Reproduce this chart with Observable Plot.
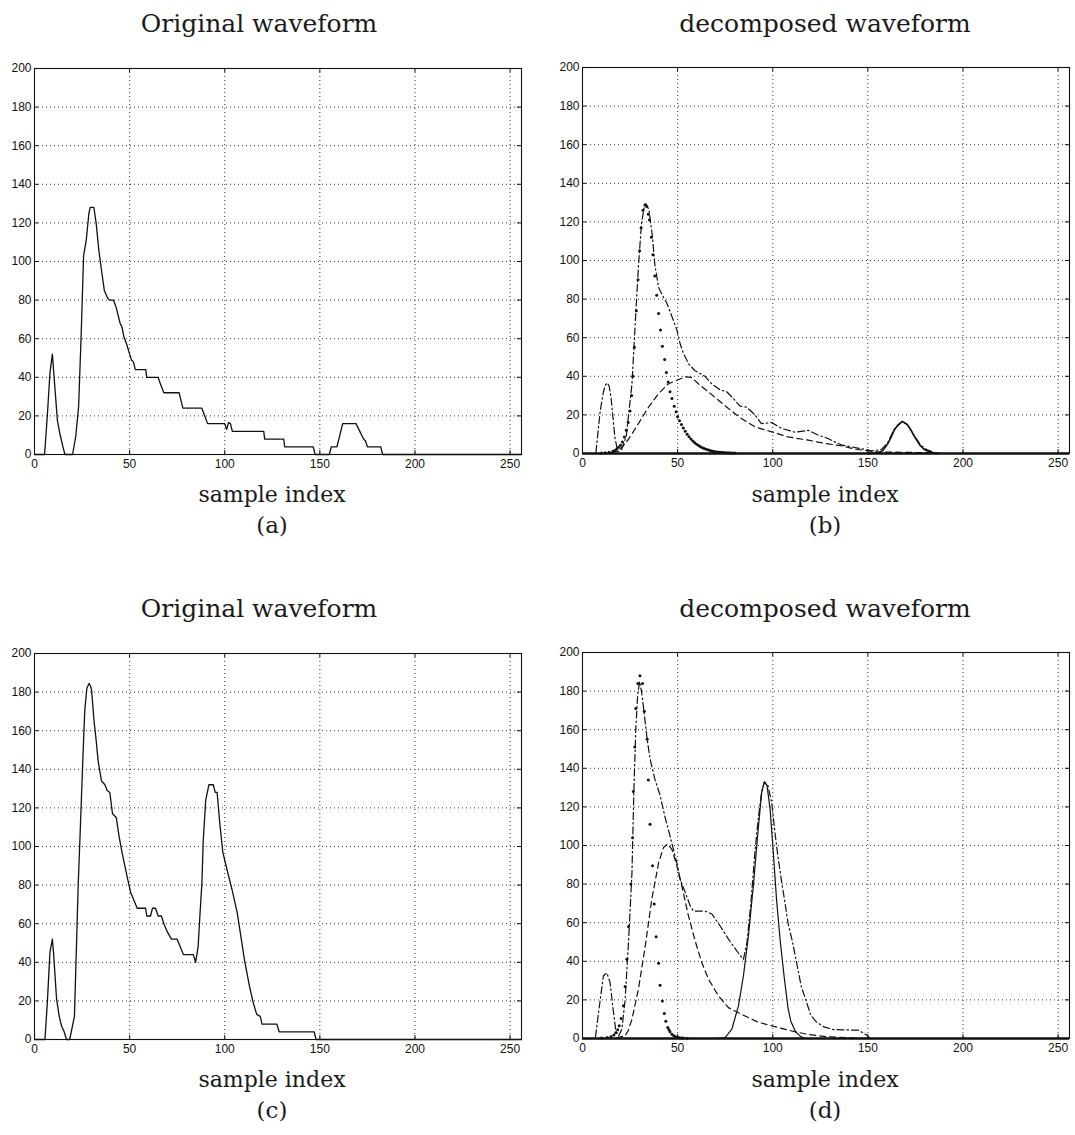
<!DOCTYPE html>
<html><head><meta charset="utf-8">
<script src="https://cdn.jsdelivr.net/npm/d3@7"></script>
<script src="https://cdn.jsdelivr.net/npm/@observablehq/plot@0.6"></script>
<style>
html,body{margin:0;padding:0;background:#fff;}
body{width:1075px;height:1135px;overflow:hidden;position:relative;}
.t{position:absolute;font-family:"DejaVu Serif",serif;color:#1a1a1a;transform:translateX(-50%);white-space:nowrap;line-height:1;}
.p{position:absolute;}
</style></head><body>
<script>
// ---------- axis ticks ----------
const xTicks = [0, 50, 100, 150, 200, 250];
const yTicks = [0, 20, 40, 60, 80, 100, 120, 140, 160, 180, 200];
const yGrid = [20, 40, 60, 80, 100, 120, 140, 160, 180];

// ---------- titles ----------
const titles = ["Original waveform", "decomposed waveform", "Original waveform", "decomposed waveform"];
const xLabel = "sample index";
const subLabels = ["(a)", "(b)", "(c)", "(d)"];

// ---------- (a) original waveform ----------
const origA = [[0,0],[5.3,0],[6.8,21],[8.1,42],[9.4,52],[10.7,35],[12,18],[13.3,11],[14.7,5],[16,0],[20,0],[21.7,9.5],[23.2,25],[24.6,64],[25.8,103],[27.2,111],[28.6,125],[29.3,128],[31.2,128],[32.4,120],[33.8,106],[35,97],[36.7,85],[38.5,81],[39.5,80],[41.5,80],[43,76],[45,68],[46,66],[47,61],[48.5,57],[50,52],[51,49],[52,48],[53,44],[58.5,44],[59,40],[65,40],[66,37],[68,32],[76,32],[77,28],[78,24],[88,24],[89.5,20],[91,16],[100,16],[101,13],[102,16.5],[103,16],[104,12],[120.5,12],[121,8],[131,8],[131.5,4],[146.5,4],[147.5,0],[155,0],[156,4],[159,4],[162,16],[169,16],[171,12],[172,10],[173,8],[174,7],[175,4],[182,4],[183,0],[256,0]];

// ---------- (b) decomposed components ----------
const dashdotB = [[0,0],[7,0],[9.3,22],[11,32],[12,35.4],[13,36.6],[14,35],[15,29],[17,8.6],[18.5,1],[20.6,2],[23,9],[26,36],[27.7,67],[29.4,97],[31,119],[32.3,127],[33.3,129.5],[35,126],[36.8,112],[38,98],[40,86],[42.5,81],[44.3,78],[47,71],[49.6,64],[51.3,57],[53,52],[55.7,46.6],[59,43],[64.4,40],[68,36],[72.3,33],[75.8,32],[79.3,28.5],[82.8,24.5],[86.3,24],[90.7,20],[94,15.5],[99.5,16],[104.7,13],[111.7,11],[118.7,12],[124,9.5],[129,7.8],[133.6,5.5],[136,4.5],[141,3.5],[146.5,2.5],[152,1.4],[157,2],[160.4,5.5],[163.8,12.5],[168.1,16.6],[170.7,15],[174.1,9.8],[177.6,4.5],[181,2],[185,0.5],[187,0],[256,0]];
const dottedB = [[10,0.2],[12,0.4],[14,0.7],[16,1.2],[17,1.6],[18,2.3],[19,3.2],[20,4.3],[21,6],[22,8.5],[23,12],[24,16],[25,22],[25.8,30],[26.5,40],[27.3,55],[28.3,74],[29.2,90],[30,105],[30.8,117],[31.8,126],[32.8,128.7],[33.8,128],[34.6,124],[35.2,121],[36.2,112],[37,103],[38,92],[39,82],[40,72.5],[41,64],[42,55.6],[43.2,48.7],[44.1,42],[45,37],[46,32],[47,28.5],[48.2,24.5],[49.2,21.6],[50,19],[51,17],[52,15],[53,13.2],[54,11.5],[55,10],[56,8.7],[57,7.5],[58,6.5],[59,5.6],[60,4.8],[61,4.1],[62,3.5],[63,3],[64,2.6],[65,2.2],[66,1.9],[67,1.6],[68,1.3],[69,1.1],[70,0.9],[71,0.8],[72,0.7],[73,0.6],[74,0.5],[75,0.45],[76,0.4],[77,0.35],[78,0.3],[79,0.25],[80,0.2]];
const dashedB = [[15,0.3],[18,1.2],[20,2.5],[22.4,5],[25,8.6],[29.4,15.5],[34.7,24],[40,31],[45,36],[48.7,37.6],[54,39.7],[57.4,39.4],[61,36],[66,32],[71.5,27.6],[76.7,23.3],[83.7,18],[90.7,13.8],[99.5,11.2],[108,8.6],[118.7,6.9],[127.5,5.2],[136,4],[143,2.3],[150,1.4],[155,0.8],[170,0.6],[186,0.3],[188,0]];
const solidB = [[150,0],[155,0.3],[157.8,1.4],[160.4,5],[162,8],[163.8,12],[166,15],[168.1,16.6],[170.7,15],[172.5,12.5],[174.1,9.4],[176,6.5],[177.6,4],[179.3,2.3],[181,1.4],[184.5,0.2],[187,0]];

// ---------- (c) original waveform ----------
const origC = [[0,0],[5.5,0],[6.8,20],[8.1,45],[9.4,52],[10,45],[11.6,21],[13,12],[14.2,7],[15.6,4],[16.8,0],[18.5,0],[21,12],[23,81],[24,107],[24.7,126],[25.6,150],[26.4,170],[27.5,182],[28.7,184.5],[29.5,183],[30,181],[31.3,165],[32.3,156],[33.5,144],[35.2,134],[37,132],[38.2,129],[39.6,128],[41,117],[43,115],[44.5,105],[46,97],[47.7,89],[49,83],[50.6,76],[52.3,72],[54,68],[58.4,68],[59,64],[61,64],[62,68],[63.6,68],[65,64],[66.7,64],[68,60],[69.7,56],[72,52],[75,52],[76.6,48],[78.3,44],[83.5,44],[84.7,40],[86,48],[87,65],[88,81],[88.7,103],[90,124],[91.7,132],[94,132],[95,128],[96,128],[97.4,112],[99,97],[101.7,86],[104,77],[106.6,65.5],[108.7,52],[110.4,41],[113,27.6],[115,19],[116.8,13],[118.7,12],[119.6,8],[127.4,8],[128.6,4],[147,4],[148,0],[256,0]];

// ---------- (d) decomposed components ----------
const dashdotD = [[0,0],[6.7,0],[9.3,20],[11,32.5],[12.8,34],[14.5,29],[16.3,13.5],[17.5,4],[19,1.4],[20.7,4.8],[22.4,20],[24.2,50],[26,86],[27,128],[28,160],[29,178],[30,185],[31,180],[32,172],[34,155],[35.5,145],[38,134.5],[40.8,126],[43.4,114.6],[46,105],[47.8,98],[49.6,91],[51.3,82.6],[54,75.7],[56.6,68.8],[58.3,66],[64.4,66],[68,64.5],[72.3,58.4],[76.7,51.5],[81,45.5],[84.6,41],[86.5,50],[88.5,70],[90.5,95],[92.5,115],[94.2,128],[95.6,133],[97.5,131],[99.5,122],[101,108],[102.5,96],[104.7,81],[106.5,70],[108,60],[110.4,50],[113,37],[115,27],[117.4,20],[120,12],[123,8.5],[127,6],[132,4.6],[145,4.3],[149.5,1.7],[151,0],[256,0]];
const dottedD = [[10,0.2],[13,0.5],[15,1],[16.5,1.8],[17.5,3],[18.5,4.5],[19.3,6.6],[20.3,10.4],[21.5,17],[22.4,27],[23.3,41],[24.2,58],[25.4,80],[26.3,104],[26.7,128],[27.5,151],[28,171],[29.1,184],[30.2,188],[31.5,184],[32.5,169.5],[34,155],[34.6,134],[35.5,111],[36.8,89.5],[37.7,69.7],[38.7,52.7],[40,39],[40.8,27.6],[42,19.4],[43,13],[43.8,9],[44.8,5.7],[45.5,4.5],[46,3.5],[47,2.2],[48,1.4],[49,0.9],[50,0.6],[51,0.4],[52,0.3],[53,0.2],[55,0.1]];
const dashedD = [[18,0.3],[20,0.8],[22.4,1.4],[24,4],[26,10],[29.4,25.6],[33,48],[36.4,72],[40,91],[42.6,99],[44.8,100.8],[47,98],[49.6,89.5],[52.2,79],[55.7,63.6],[59.2,50.6],[62.7,39.4],[66.2,30.8],[71.5,22],[76.7,16],[83.7,12.5],[92.2,8.5],[100,6.4],[109.5,4],[118,2.2],[128.7,0.9],[140.8,0.3],[150,0]];
const solidD = [[70,0],[75,0.5],[78.5,4.8],[82,17],[84.6,32.5],[87.2,53],[89.8,79],[92.5,110],[94.2,127.5],[95.6,133],[97,131],[98.6,119],[100.3,96.4],[102,72],[104,50],[106,32],[108,16],[109.5,9],[112,3.5],[114.7,1],[117,0]];
const zeroLine = [0];

// ---------- layout ----------
const W = 527, H = 418, mL = 34, mR = 6, mT = 8, mB = 24;
const iw = W - mL - mR, ih = H - mT - mB;
const ink = "#111";
const DASHDOT = "7,3,1.5,3";
const DASHED = "6,4";

function lineMark(data, dash, sw) {
  return Plot.line(data, {x: d => d[0], y: d => d[1], stroke: ink, strokeWidth: sw || 1.2, strokeDasharray: dash || null, curve: "linear"});
}
function dotMark(data) {
  return Plot.dot(data, {x: d => d[0], y: d => d[1], r: 1.5, fill: ink, stroke: "none"});
}

function panel(layers, heavyBase) {
  return Plot.plot({
    width: W, height: H,
    marginLeft: mL, marginRight: mR, marginTop: mT, marginBottom: mB,
    style: {fontFamily: "'Liberation Sans', Arial, sans-serif", fontSize: "12px", color: ink, background: "white"},
    x: {domain: [0, 256]},
    y: {domain: [0, 200]},
    marks: [
      Plot.ruleX(xTicks, {x: d => d, stroke: "#333", strokeWidth: 1, strokeDasharray: "1,3"}),
      Plot.ruleY(yGrid, {y: d => d, stroke: "#333", strokeWidth: 1, strokeDasharray: "1,3"}),
      Plot.ruleX(xTicks, {x: d => d, stroke: ink, insetTop: ih - 4}),
      Plot.ruleX(xTicks, {x: d => d, stroke: ink, insetBottom: ih - 4}),
      Plot.ruleY(yTicks, {y: d => d, stroke: ink, insetRight: iw - 4}),
      Plot.ruleY(yTicks, {y: d => d, stroke: ink, insetLeft: iw - 4}),
      ...layers,
      heavyBase ? Plot.ruleY(zeroLine, {y: d => d, stroke: ink, strokeWidth: 2.4}) : null,
      Plot.frame({stroke: ink, strokeWidth: 1.1}),
      Plot.axisX({ticks: xTicks, tickSize: 0, tickPadding: 5, label: null, fill: ink}),
      Plot.axisY({ticks: yTicks, tickSize: 0, tickPadding: 3, label: null, fill: ink})
    ]
  });
}

const panels = [
  panel([lineMark(origA, null, 1.3)], false),
  panel([lineMark(dashedB, DASHED), lineMark(dashdotB, DASHDOT), dotMark(dottedB), lineMark(solidB, null, 1.6)], true),
  panel([lineMark(origC, null, 1.3)], false),
  panel([lineMark(dashedD, DASHED), lineMark(dashdotD, DASHDOT), dotMark(dottedD), lineMark(solidD, null, 1.2)], true)
];

const pos = [
  {left: 0, top: 60, cx: 272, ty: 0},
  {left: 548, top: 59, cx: 825, ty: 0},
  {left: 0, top: 645, cx: 272, ty: 585},
  {left: 548, top: 644, cx: 825, ty: 585}
];

function addText(txt, cx, top, size) {
  const d = document.createElement("div");
  d.className = "t";
  d.textContent = txt;
  d.style.left = cx + "px";
  d.style.top = top + "px";
  d.style.fontSize = size + "px";
  document.body.appendChild(d);
}

panels.forEach((svg, i) => {
  const p = pos[i];
  const wrap = document.createElement("div");
  wrap.className = "p";
  wrap.style.left = p.left + "px";
  wrap.style.top = p.top + "px";
  wrap.appendChild(svg);
  document.body.appendChild(wrap);
  addText(titles[i], p.cx - (i % 2 === 0 ? 13 : 0), 11 + p.ty, 25);
  addText(xLabel, p.cx, 484 + p.ty, 22);
  addText(subLabels[i], p.cx, 514 + p.ty, 23);
});
</script>
</body></html>
